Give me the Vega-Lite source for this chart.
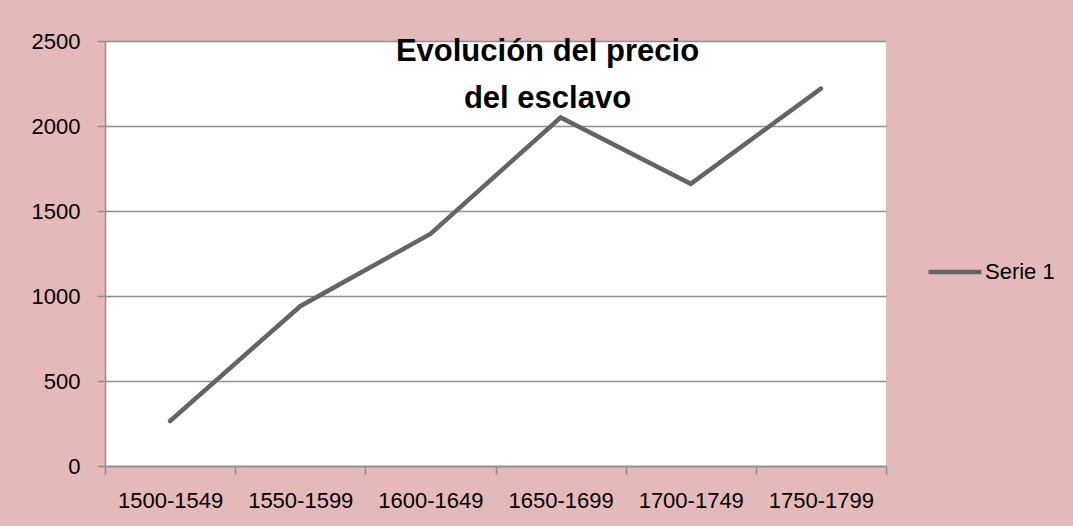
{
  "$schema": "https://vega.github.io/schema/vega-lite/v6.json",
  "width": 781,
  "height": 425,
  "autosize": {"type": "none"},
  "padding": {"left": 105, "top": 41, "right": 187, "bottom": 60},
  "background": "#e5b8b9",
  "title": {
    "text": ["Evolución del precio", "del esclavo"],
    "font": "Liberation Sans",
    "fontSize": 31,
    "fontWeight": "bold",
    "color": "#000000",
    "lineHeight": 47,
    "anchor": "middle",
    "baseline": "alphabetic",
    "offset": 0,
    "dx": 52,
    "dy": 109
  },
  "data": {
    "values": [
      {"periodo": "1500-1549", "precio": 265, "serie": "Serie 1"},
      {"periodo": "1550-1599", "precio": 940, "serie": "Serie 1"},
      {"periodo": "1600-1649", "precio": 1365, "serie": "Serie 1"},
      {"periodo": "1650-1699", "precio": 2050, "serie": "Serie 1"},
      {"periodo": "1700-1749", "precio": 1660, "serie": "Serie 1"},
      {"periodo": "1750-1799", "precio": 2220, "serie": "Serie 1"}
    ]
  },
  "mark": {"type": "line", "strokeWidth": 4.5, "strokeCap": "round", "strokeJoin": "miter"},
  "encoding": {
    "x": {
      "field": "periodo",
      "type": "nominal",
      "sort": null,
      "scale": {"type": "band", "paddingInner": 0, "paddingOuter": 0},
      "axis": {
        "title": null,
        "labelAngle": 0,
        "tickBand": "extent",
        "grid": false,
        "domainColor": "#8f8f8f",
        "domainWidth": 1.5,
        "tickColor": "#8f8f8f",
        "tickWidth": 1.5,
        "tickSize": 8,
        "labelPadding": 16,
        "labelFont": "Liberation Sans",
        "labelFontSize": 22,
        "labelColor": "#000000"
      }
    },
    "y": {
      "field": "precio",
      "type": "quantitative",
      "scale": {"domain": [0, 2500], "nice": false},
      "axis": {
        "title": null,
        "values": [0, 500, 1000, 1500, 2000, 2500],
        "format": "d",
        "grid": true,
        "gridColor": "#8f8f8f",
        "gridWidth": 1.5,
        "domainColor": "#8f8f8f",
        "domainWidth": 1.5,
        "tickColor": "#8f8f8f",
        "tickWidth": 1.5,
        "tickSize": 8,
        "labelPadding": 17,
        "labelFont": "Liberation Sans",
        "labelFontSize": 22,
        "labelColor": "#000000"
      }
    },
    "color": {
      "field": "serie",
      "type": "nominal",
      "scale": {"range": ["#646464"]},
      "legend": {
        "title": null,
        "orient": "none",
        "legendX": 821,
        "legendY": 202,
        "symbolType": "stroke",
        "symbolStrokeWidth": 4.5,
        "symbolSize": 2800,
        "labelFont": "Liberation Sans",
        "labelFontSize": 22,
        "labelColor": "#000000",
        "labelOffset": 1,
        "padding": 0
      }
    }
  },
  "config": {
    "view": {"fill": "#ffffff", "stroke": null}
  }
}
